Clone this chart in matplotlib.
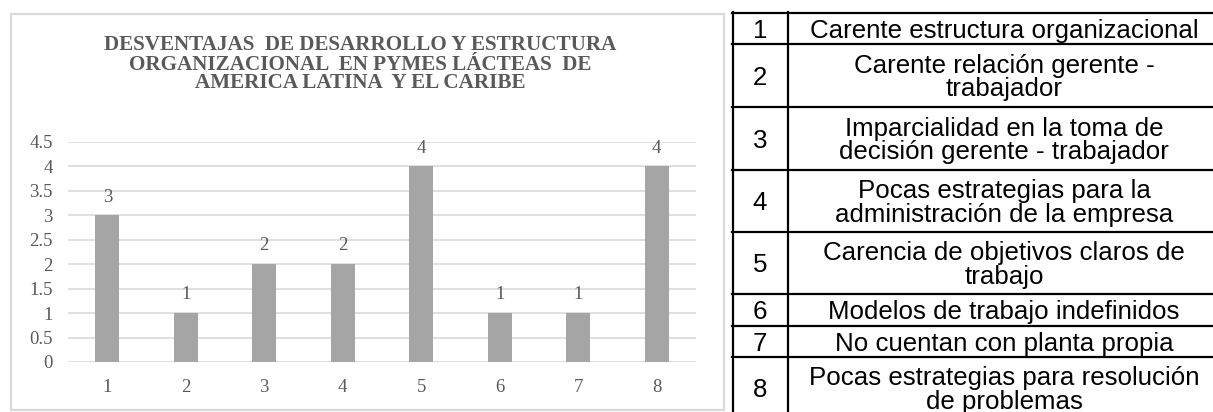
import matplotlib
matplotlib.use("Agg")
import matplotlib.pyplot as plt
from matplotlib.patches import Rectangle
from matplotlib.lines import Line2D

# ---------------- data ----------------
categories = ["1", "2", "3", "4", "5", "6", "7", "8"]
values = [3, 1, 2, 2, 4, 1, 1, 4]
yticks = [0, 0.5, 1, 1.5, 2, 2.5, 3, 3.5, 4, 4.5]
ytick_labels = ["0", "0.5", "1", "1.5", "2", "2.5", "3", "3.5", "4", "4.5"]
title_lines = [
    "DESVENTAJAS  DE DESARROLLO Y ESTRUCTURA",
    "ORGANIZACIONAL  EN PYMES LÁCTEAS  DE",
    "AMERICA LATINA  Y EL CARIBE",
]
table_numbers = categories
table_descriptions = [
    ["Carente estructura organizacional"],
    ["Carente relación gerente -", "trabajador"],
    ["Imparcialidad en la toma de", "decisión gerente - trabajador"],
    ["Pocas estrategias para la", "administración de la empresa"],
    ["Carencia de objetivos claros de", "trabajo"],
    ["Modelos de trabajo indefinidos"],
    ["No cuentan con planta propia"],
    ["Pocas estrategias para resolución", "de problemas"],
]

# ---------------- layout helpers ----------------
W, H = 1213, 412
fig = plt.figure(figsize=(W / 100, H / 100), dpi=100)
fig.patch.set_facecolor("white")


def fx(px):
    return px / W


def fy(py):
    return 1 - py / H


GRAY_TXT = "#595959"
SERIF = "Liberation Serif"
SANS = "Liberation Sans"

# chart panel border
fig.patches.append(Rectangle((fx(11), fy(410)), fx(724) - fx(11), fy(14) - fy(410),
                             transform=fig.transFigure, fill=False,
                             edgecolor="#d9d9d9", linewidth=1.6))

# title
for i, line in enumerate(title_lines):
    fig.text(fx(360), fy(50.5 + 19 * i), line, ha="center", va="baseline",
             fontfamily=SERIF, fontweight="bold", fontsize=15.2, color=GRAY_TXT)

# bar chart
ax = fig.add_axes([fx(68), fy(362), fx(696) - fx(68), fy(142) - fy(362)])
xpos = list(range(len(values)))
bars = ax.bar(xpos, values, width=0.31, color="#a5a5a5", zorder=3)
ax.set_xlim(-0.5, 7.5)
ax.set_ylim(0, 4.5)
ax.set_yticks(yticks)
ax.set_yticklabels(ytick_labels)
ax.set_xticks(xpos)
ax.set_xticklabels(categories)
ax.grid(axis="y", color="#d9d9d9", linewidth=1.2)
ax.grid(axis="x", visible=False)
ax.set_axisbelow(True)
for s in ax.spines.values():
    s.set_visible(False)
ax.tick_params(length=0, colors=GRAY_TXT, labelsize=13.5)
ax.tick_params(axis="y", pad=11)
ax.tick_params(axis="x", pad=12)
for lbl in ax.get_xticklabels() + ax.get_yticklabels():
    lbl.set_fontfamily(SERIF)
ax.bar_label(bars, labels=[str(v) for v in values], padding=7,
             color=GRAY_TXT, fontsize=13.5, fontfamily=SERIF)

# table
row_edges = [13, 44, 107, 170, 232, 294, 326, 357, 419]
x_left, x_mid, x_right = 733, 788, 1213
lw = 1.6
for y in row_edges[:-1]:
    fig.add_artist(Line2D([fx(x_left - 1), fx(x_right)], [fy(y), fy(y)],
                          transform=fig.transFigure, color="black", linewidth=lw))
for xv in (x_left, x_mid):
    fig.add_artist(Line2D([fx(xv), fx(xv)], [fy(12), fy(H)],
                          transform=fig.transFigure, color="black", linewidth=lw))

fs_tab = 18.6
cap = 0.716 * fs_tab / 0.72  # cap height in px
for i, (num, desc) in enumerate(zip(table_numbers, table_descriptions)):
    c = (row_edges[i] + row_edges[i + 1]) / 2
    fig.text(fx(760), fy(c + cap / 2), num, ha="center", va="baseline",
             fontfamily=SANS, fontsize=fs_tab, color="black")
    n = len(desc)
    for j, line in enumerate(desc):
        yc = c + (j - (n - 1) / 2) * 23.5
        fig.text(fx(1004), fy(yc + cap / 2), line, ha="center", va="baseline",
                 fontfamily=SANS, fontsize=fs_tab, color="black")

fig.savefig("out.png", dpi=100)
